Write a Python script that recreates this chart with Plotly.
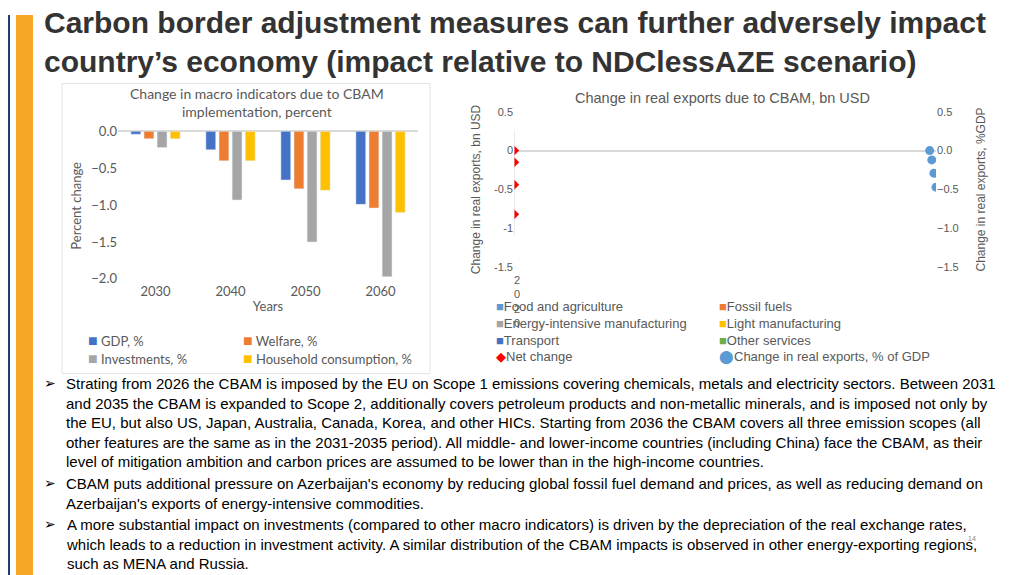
import plotly.graph_objects as go

W, H = 1024, 575
OFF = 8  # browser body margin


def px(x):
    return (x - OFF) / W


def py(y):
    return 1 - (y - OFF) / H


# left chart data
years = ["2030", "2040", "2050", "2060"]
gdp = [-0.04, -0.25, -0.66, -0.99]
welfare = [-0.10, -0.40, -0.78, -1.04]
investments = [-0.22, -0.93, -1.50, -1.97]
household = [-0.10, -0.40, -0.80, -1.10]
bar_names = ["GDP, %", "Welfare, %", "Investments, %", "Household consumption, %"]
bar_colors = ["#4472C4", "#ED7D31", "#A5A5A5", "#FFC000"]

# right chart data
net_change = [0.0, -0.15, -0.44, -0.82]
exports_gdp = [0.0, -0.12, -0.29, -0.47]
exports_x = [0.985, 0.99, 0.995, 1.0]
right_ticks = [0.5, 0.0, -0.5, -1.0, -1.5]
right_legend = [
    ("■", "#5B9BD5", "Food and agriculture"), ("■", "#ED7D31", "Fossil fuels"),
    ("■", "#A5A5A5", "Energy-intensive manufacturing"), ("■", "#FFC000", "Light manufacturing"),
    ("■", "#4472C4", "Transport"), ("■", "#70AD47", "Other services"),
    ("◆", "#FF0000", "Net change"), ("⬤", "#5B9BD5", "Change in real exports, % of GDP"),
]

bullets = [
    "Strating from 2026 the CBAM is imposed by the EU on Scope 1 emissions covering chemicals, metals and electricity sectors. Between 2031<br>"
    "and 2035 the CBAM is expanded to Scope 2, additionally covers petroleum products and non-metallic minerals, and is imposed not only by<br>"
    "the EU, but also US, Japan, Australia, Canada, Korea, and other HICs. Starting from 2036 the CBAM covers all three emission scopes (all<br>"
    "other features are the same as in the 2031-2035 period). All middle- and lower-income countries (including China) face the CBAM, as their<br>"
    "level of mitigation ambition and carbon prices are assumed to be lower than in the high-income countries.",
    "CBAM puts additional pressure on Azerbaijan's economy by reducing global fossil fuel demand and prices, as well as reducing demand on<br>"
    "Azerbaijan's exports of energy-intensive commodities.",
    "A more substantial impact on investments (compared to other macro indicators) is driven by the depreciation of the real exchange rates,<br>"
    "which leads to a reduction in investment activity. A similar distribution of the CBAM impacts is observed in other energy-exporting regions,<br>"
    "such as MENA and Russia.",
]
bullet_y = [374, 477, 519]

fig = go.Figure()

series = [gdp, welfare, investments, household]
for name, vals, col in zip(bar_names, series, bar_colors):
    fig.add_trace(go.Bar(x=years, y=vals, name=name, marker_color=col,
                         xaxis="x", yaxis="y", showlegend=False))

fig.add_trace(go.Scatter(x=[0] * len(net_change), y=net_change, mode="markers",
                         marker=dict(symbol="diamond", color="#FF0000", size=8),
                         xaxis="x2", yaxis="y3", showlegend=False))
fig.add_trace(go.Scatter(x=exports_x, y=exports_gdp, mode="markers",
                         marker=dict(color="#5B9BD5", size=9),
                         xaxis="x2", yaxis="y4", showlegend=False))

tick_font = dict(family="Lato", size=13, color="#595959")
rfont = dict(family="Liberation Sans", size=11, color="#595959")
rtitle = dict(family="Liberation Sans", size=12, color="#595959")


def ydom(top_val, bot_val, top_px, bot_px, lo, hi):
    scale = (bot_px - top_px) / (top_val - bot_val)
    t = top_px - (hi - top_val) * scale
    b = bot_px + (bot_val - lo) * scale
    return [py(b), py(t)]


fig.update_layout(
    width=W, height=H, margin=dict(l=0, r=0, t=0, b=0),
    paper_bgcolor="white", plot_bgcolor="rgba(0,0,0,0)",
    barmode="group", bargap=0.3, bargroupgap=0.25,
    xaxis=dict(domain=[px(118), px(418)], tickfont=tick_font, showline=False,
               title=dict(text="Years", font=tick_font, standoff=4), ticks=""),
    yaxis=dict(domain=ydom(0, -2, 127, 278, -2.04, 0.02), range=[-2.04, 0.02],
               tickvals=[0, -0.5, -1, -1.5, -2], tickformat=".1f", tickfont=tick_font,
               showgrid=False, zeroline=True, zerolinecolor="#D9D9D9",
               title=dict(text="Percent change", font=tick_font, standoff=6)),
    xaxis2=dict(domain=[px(514), px(936)], range=[0, 1], visible=False),
    yaxis3=dict(domain=ydom(0.5, -1.5, 107, 266, -1.5, 0.5), range=[-1.5, 0.5],
                anchor="x2", tickvals=right_ticks, ticktext=["0.5", "0", "-0.5", "-1", "-1.5"],
                tickfont=rfont, showgrid=False, zeroline=True, zerolinecolor="#D9D9D9",
                title=dict(text="Change in real exports, bn USD", font=rtitle, standoff=10)),
    yaxis4=dict(overlaying="y3", side="right", anchor="x2", range=[-1.5, 0.5],
                tickvals=right_ticks, tickformat=".1f", tickfont=rfont, showgrid=False,
                zeroline=False,
                title=dict(text="Change in real exports, %GDP", font=rtitle, standoff=18)),
    font=dict(family="Liberation Sans"),
)

shapes = [
    dict(type="rect", xref="paper", yref="paper", x0=0, x1=px(10), y0=0, y1=1,
         fillcolor="#1F3F6E", line_width=0, layer="below"),
    dict(type="rect", xref="paper", yref="paper", x0=px(16), x1=px(33), y0=0, y1=1,
         fillcolor="#F5A623", line_width=0, layer="below"),
    dict(type="rect", xref="paper", yref="paper", x0=px(62), x1=px(430), y0=py(375), y1=py(78),
         fillcolor="white", line=dict(color="#E3E3E3", width=1), layer="below"),
    dict(type="line", xref="x2", yref="y3", x0=0, x1=0, y0=0.27, y1=-1.1,
         line=dict(color="#D9D9D9", width=1)),
]

ann = [
    dict(x=px(42), y=py(-3), text="<b>Carbon border adjustment measures can further adversely impact<br>"
         "country’s economy (impact relative to NDClessAZE scenario)</b>",
         font=dict(family="Liberation Sans", size=30, color="#333333")),
    dict(x=px(257), y=py(78), xanchor="center", align="center",
         text="Change in macro indicators due to CBAM<br>implementation, percent",
         font=dict(family="Lato", size=14, color="#595959")),
    dict(x=px(722), y=py(83), xanchor="center", text="Change in real exports due to CBAM, bn USD",
         font=dict(family="Liberation Sans", size=14.5, color="#595959")),
    dict(x=px(517), y=py(271), xanchor="center", text="2<br>0<br>2<br>0",
         font=dict(family="Liberation Sans", size=11, color="#595959")),
    dict(x=px(966), y=py(538), text="14", font=dict(size=7, color="#888888")),
]

lx = [(86, 338), (241, 338), (86, 357), (241, 357)]
for (x, y), name, col in zip(lx, bar_names, bar_colors):
    ann.append(dict(x=px(x), y=py(y - 10),
                    text=f"<span style='color:{col};font-size:16px'>■</span> {name}",
                    font=dict(family="Lato", size=13, color="#595959")))

for i, (sym, col, name) in enumerate(right_legend):
    x = 494 if i % 2 == 0 else 717
    y = 297 + (i // 2) * 17
    ann.append(dict(x=px(x), y=py(y),
                    text=f"<span style='color:{col};font-size:13px'>{sym}</span>{name}",
                    font=dict(family="Liberation Sans", size=13, color="#595959")))

for txt, y in zip(bullets, bullet_y):
    ann.append(dict(x=px(42), y=py(y), text="➢", font=dict(family="DejaVu Sans", size=14, color="#000")))
    ann.append(dict(x=px(64), y=py(y), text=txt, align="left",
                    font=dict(family="Liberation Sans", size=15, color="#000")))

for a in ann:
    a.setdefault("xanchor", "left")
    a.setdefault("align", "left")
    a.update(xref="paper", yref="paper", yanchor="top", showarrow=False)

fig.update_layout(shapes=shapes, annotations=ann)
fig.write_html("out.html")
